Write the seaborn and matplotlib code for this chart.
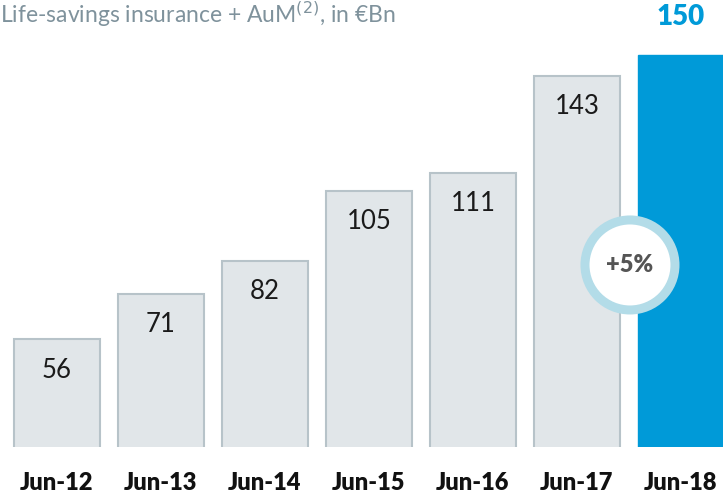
import pandas as pd
import matplotlib.pyplot as plt
import seaborn as sns
from matplotlib.patches import Ellipse

# chart data
periods = ['Jun-12', 'Jun-13', 'Jun-14', 'Jun-15', 'Jun-16', 'Jun-17', 'Jun-18']
savings = [56, 71, 82, 105, 111, 143, 150]
growth_label = '+5%'

df = pd.DataFrame({'period': periods, 'value': savings})

grey_fill = '#e1e6e9'
grey_edge = '#b7c3c9'
blue = '#009ad8'
colors = [grey_fill] * 6 + [blue]

sns.set_style('white')
plt.rcParams['font.family'] = ['Lato', 'DejaVu Sans']

fig = plt.figure(figsize=(7.23, 4.96), dpi=100)
ax = fig.add_axes([0, 49 / 496, 1, 447 / 496])

sns.barplot(data=df, x='period', y='value', hue='period', palette=colors,
            width=0.83, legend=False, ax=ax, saturation=1)
for i, bar in enumerate(ax.patches):
    if i < 6:
        bar.set_edgecolor(grey_edge)
        bar.set_linewidth(1.5)
    else:
        bar.set_edgecolor(blue)

ax.set_xlim(-0.548, 6.404)
ax.set_ylim(20.5, 168)
ax.axis('off')

# value labels
for i, v in enumerate(savings):
    if i < 6:
        ax.text(i, v - 10.2, str(v), ha='center', va='center', fontsize=18.5, color='#1a1a1a')
    else:
        ax.text(i, v + 12.3, str(v), ha='center', va='center', fontsize=20,
                color=blue, fontweight='heavy')

# x labels
for i, p in enumerate(periods):
    fig.text((57 + 104 * i) / 723, 1 - 483 / 496, p, ha='center', va='center',
             fontsize=17, fontweight='heavy', color='#111111')

# growth bubble
cx, cy = (630 - 57) / 104, 20.5 + (447 - 265) / 3.03
ax.add_patch(Ellipse((cx, cy), 90 / 104, 90 / 3.03, facecolor='white',
                     edgecolor='#b3dce8', linewidth=6.5, zorder=5))
ax.text(cx, cy, growth_label, ha='center', va='center', fontsize=17,
        fontweight='heavy', color='#555555', zorder=6)

# heading
fig.text(0.0, 1 - 14 / 496, 'Life-savings insurance + AuM$^{(2)}$, in €Bn',
         ha='left', va='center', fontsize=16.5, color='#7f929c')

fig.savefig('out.png', dpi=100)
